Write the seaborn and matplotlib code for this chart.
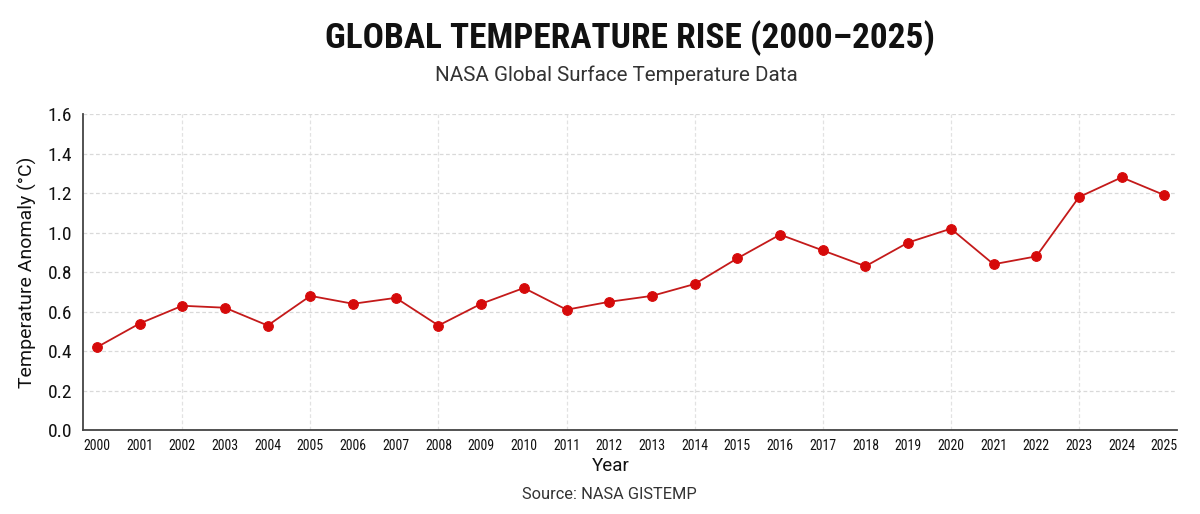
import pandas as pd
import matplotlib
matplotlib.use("Agg")
import matplotlib.pyplot as plt
import seaborn as sns

# data
years = list(range(2000, 2026))
anomaly = [0.42, 0.54, 0.63, 0.62, 0.53, 0.68, 0.64, 0.67, 0.53, 0.64,
           0.72, 0.61, 0.65, 0.68, 0.74, 0.87, 0.99, 0.91, 0.83, 0.95,
           1.02, 0.84, 0.88, 1.18, 1.28, 1.19]
y_ticks = [0.0, 0.2, 0.4, 0.6, 0.8, 1.0, 1.2, 1.4, 1.6]
grid_years = [2002, 2005, 2008, 2011, 2014, 2017, 2020, 2023]

df = pd.DataFrame({"Year": years, "Anomaly": anomaly})

sns.set_theme(style="white")
plt.rcParams["font.family"] = ["Roboto", "DejaVu Sans"]
narrow = ["Roboto Condensed", "Barlow Condensed", "Archivo Narrow", "DejaVu Sans"]

fig = plt.figure(figsize=(12, 5.14), dpi=100)
ax = fig.add_axes([0.069, 0.163, 0.912, 0.615])

# vertical grid every 3 years (dashed, light)
for gy in grid_years:
    ax.axvline(gy, linestyle=(0, (3, 2)), color="#e2e2e2", linewidth=0.9, zorder=0)

sns.lineplot(data=df, x="Year", y="Anomaly", ax=ax, color="#c41a1a",
             linewidth=1.3, marker="o", markersize=7,
             markerfacecolor="#d60a0a", markeredgecolor="#d60a0a", zorder=3)

ax.set_xlim(1999.67, 2025.3)
ax.set_ylim(0, 1.6)
ax.set_xticks(years)
ax.set_xticklabels([str(y) for y in years], family=narrow, fontsize=10)
ax.set_yticks(y_ticks)
ax.set_yticklabels([f"{v:.1f}" for v in y_ticks], family=narrow, fontsize=14)
ax.tick_params(axis="both", which="major", direction="out", length=4,
               width=1, color="#444444", labelcolor="#111111")
ax.tick_params(axis="x", pad=2)

ax.grid(axis="y", which="major", linestyle=(0, (3, 2)), color="#d9d9d9", linewidth=0.9)
ax.grid(axis="x", visible=False)

for s in ["top", "right"]:
    ax.spines[s].set_visible(False)
for s in ["left", "bottom"]:
    ax.spines[s].set_color("#444444")
    ax.spines[s].set_linewidth(1.3)

ax.set_xlabel("Year", fontsize=13.5, color="#111111")
ax.xaxis.set_label_coords(0.482, -0.085)
ax.set_ylabel("Temperature Anomaly (°C)", fontsize=14, color="#111111", labelpad=8)

fig.text(0.525, 0.925, "GLOBAL TEMPERATURE RISE (2000–2025)", ha="center", va="center",
         fontsize=25.5, fontweight="bold", family=narrow, color="#111111")
fig.text(0.514, 0.853, "NASA Global Surface Temperature Data", ha="center", va="center",
         fontsize=14.8, color="#333333")
fig.text(0.508, 0.038, "Source: NASA GISTEMP", ha="center", va="center",
         fontsize=11.8, color="#333333")

fig.savefig("out.png", dpi=100, facecolor="white")
